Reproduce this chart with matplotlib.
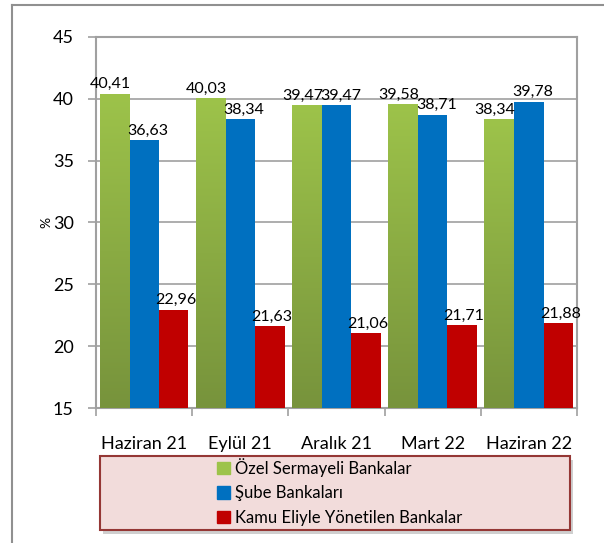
import numpy as np
from matplotlib import pyplot as plt, patches
from matplotlib.lines import Line2D
from matplotlib.colors import LinearSegmentedColormap

plt.rcParams['font.family'] = ['Lato', 'DejaVu Sans']

periods = ['Haziran 21', 'Eylül 21', 'Aralık 21', 'Mart 22', 'Haziran 22']
ozel = [40.41, 40.03, 39.47, 39.58, 38.34]
sube = [36.63, 38.34, 39.47, 38.71, 39.78]
kamu = [22.96, 21.63, 21.06, 21.71, 21.88]
series_names = ['Özel Sermayeli Bankalar', 'Şube Bankaları', 'Kamu Eliyle Yönetilen Bankalar']

fig = plt.figure(figsize=(6.04, 5.43), dpi=100)
ax = fig.add_axes([0.159, 0.2486, 0.796, 0.6833])

x = np.arange(len(periods))
w = 0.307
green_top, green_bot = '#9dc34a', '#77933c'
blue = '#0070c0'
red = '#c00000'

b1 = ax.bar(x - w, ozel, w, color=green_top, zorder=3)
b2 = ax.bar(x, sube, w, color=blue, zorder=3)
b3 = ax.bar(x + w, kamu, w, color=red, zorder=3)

# gradient on the green bars
cmap = LinearSegmentedColormap.from_list('g', [green_bot, green_top])
grad = np.linspace(0, 1, 256).reshape(-1, 1)
for r in b1:
    im = ax.imshow(grad, cmap=cmap, origin='lower', aspect='auto', zorder=3.5,
                   extent=(r.get_x(), r.get_x() + r.get_width(), 15, r.get_height()))
    im.set_clip_path(r)

# value labels, nudged a little like the original
for bars, vals, dx in ((b1, ozel, -0.045), (b2, sube, 0.04), (b3, kamu, 0.02)):
    for r, v in zip(bars, vals):
        ax.text(r.get_x() + r.get_width() / 2 + dx, v + 0.2, f'{v:.2f}'.replace('.', ','),
                ha='center', va='bottom', fontsize=11.5, zorder=5)

ax.set_xlim(-0.5, len(periods) - 0.5)
ax.set_ylim(15, 45)
ax.set_yticks(range(15, 46, 5))
ax.set_xticks(x)
ax.set_xticklabels(periods, fontsize=13)
ax.set_xticks(np.arange(-0.5, len(periods), 1), minor=True)
ax.tick_params(axis='x', which='major', length=0, pad=20)
ax.tick_params(axis='x', which='minor', length=6, color='#a0a0a0', width=1.2)
ax.tick_params(axis='y', labelsize=13, length=6, color='#a0a0a0', width=1.2, pad=10)
ax.grid(axis='y', color='#a0a0a0', linewidth=1.2, zorder=0)
for s in ax.spines.values():
    s.set_color('#a0a0a0')
    s.set_linewidth(1.5)
ax.set_ylabel('%', fontsize=10, labelpad=0)

# outer frame of the original picture
fig.add_artist(Line2D([0.02, 0.02], [0, 0.991], color='#909090', lw=1.5))
fig.add_artist(Line2D([0.02, 1], [0.991, 0.991], color='#909090', lw=1.5))

# legend box
fig.add_artist(patches.Rectangle((0.170, 0.017), 0.778, 0.136, transform=fig.transFigure,
                                 facecolor='#b0b0b0', edgecolor='none', alpha=0.6))
fig.add_artist(patches.Rectangle((0.166, 0.024), 0.778, 0.136, transform=fig.transFigure,
                                 facecolor='#f2dcdb', edgecolor='#953735', lw=1.5))
handles = [patches.Patch(color=green_top), patches.Patch(color=blue), patches.Patch(color=red)]
fig.legend(handles, series_names, loc='upper left', bbox_to_anchor=(0.338, 0.181),
           frameon=False, fontsize=12, handlelength=0.75, handleheight=0.75,
           handletextpad=0.3, labelspacing=0.5, borderpad=0.3)

fig.savefig('out.png', dpi=100)
